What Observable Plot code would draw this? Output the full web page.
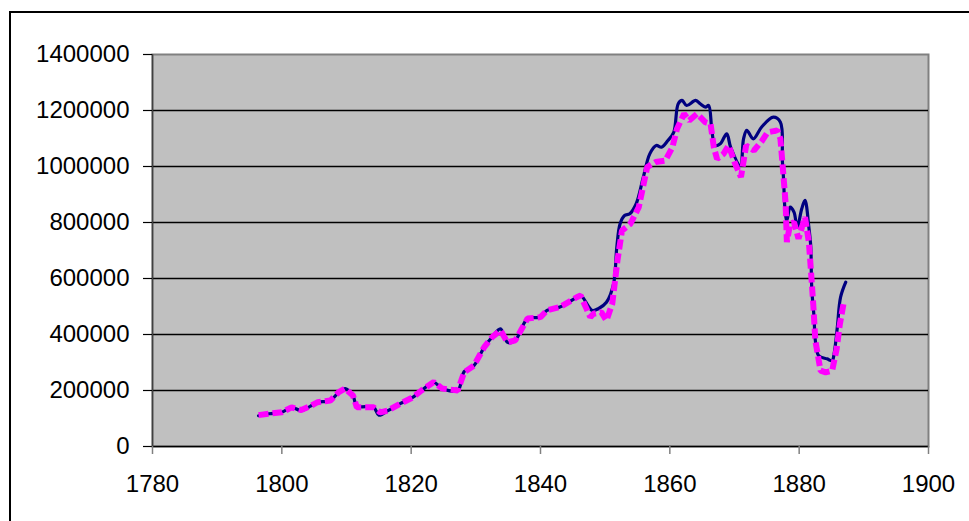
<!DOCTYPE html>
<html>
<head>
<meta charset="utf-8">
<script src="https://cdn.jsdelivr.net/npm/d3@7"></script>
<script src="https://cdn.jsdelivr.net/npm/@observablehq/plot@0.6"></script>
<style>
  html, body { margin: 0; padding: 0; background: #fff; overflow: hidden; }
  #wrap { position: relative; width: 969px; height: 521px; }
  #border { position: absolute; left: 9px; top: 11px; width: 980px; height: 530px;
            border-left: 2px solid #000; border-top: 2px solid #000; box-sizing: border-box; }
  #chart { position: absolute; left: 0; top: 0; }
</style>
</head>
<body>
<div id="wrap"><div id="border"></div><div id="chart"></div></div>
<script>
// Tick values
const xTicks = [1780, 1800, 1820, 1840, 1860, 1880, 1900];
const yTicks = [0, 200000, 400000, 600000, 800000, 1000000, 1200000, 1400000];

// Series 1 (navy, solid)
const navyYears = [1796.4, 1798, 1800, 1801.5, 1803, 1804.5, 1805.5, 1807.5, 1808.8, 1809.8, 1811, 1811.6, 1814.2, 1815, 1816.4, 1818.3, 1820.3, 1821.6, 1823.5, 1824.8, 1827.2, 1828.2, 1829.7, 1831.3, 1832.5, 1833.8, 1834.9, 1836.1, 1838, 1840, 1841, 1843, 1845.6, 1846.2, 1848, 1849, 1850.2, 1851.3, 1851.8, 1852.3, 1853, 1853.8, 1854.8, 1855.9, 1856.9, 1857.9, 1858.7, 1859.7, 1860.6, 1861.3, 1861.9, 1862.6, 1864, 1864.7, 1865.5, 1866, 1866.5, 1867, 1867.8, 1868.8, 1869.4, 1870.9, 1871.4, 1871.9, 1872.9, 1874.2, 1876, 1877.1, 1877.4, 1877.6, 1877.8, 1878.1, 1878.6, 1879.2, 1879.7, 1880.4, 1880.9, 1881.5, 1881.8, 1881.9, 1882, 1882.3, 1882.5, 1883, 1884.3, 1885.1, 1885.4, 1885.9, 1886.4, 1887.2];
const navyValues = [110000, 117000, 122000, 140000, 128000, 145000, 158000, 164000, 194000, 207000, 182000, 145000, 140000, 112000, 128000, 153000, 176000, 200000, 228000, 207000, 200000, 268000, 289000, 355000, 390000, 420000, 372000, 379000, 457000, 462000, 486000, 498000, 533000, 540000, 486000, 493000, 515000, 581000, 712000, 795000, 825000, 831000, 867000, 962000, 1045000, 1075000, 1069000, 1093000, 1122000, 1224000, 1236000, 1218000, 1236000, 1224000, 1212000, 1218000, 1129000, 1075000, 1081000, 1117000, 1069000, 1004000, 1099000, 1129000, 1099000, 1141000, 1176000, 1158000, 1021000, 950000, 849000, 807000, 855000, 837000, 783000, 849000, 879000, 783000, 712000, 593000, 545000, 462000, 379000, 325000, 313000, 307000, 331000, 426000, 533000, 587000];

// Series 2 (magenta, dashed)
const magentaYears = [1796.4, 1798, 1800, 1801.5, 1803, 1804.5, 1805.5, 1807.5, 1808.8, 1809.8, 1811, 1811.6, 1814.2, 1815.2, 1816.4, 1818.3, 1820.3, 1821.6, 1823.5, 1824.8, 1827.2, 1828.2, 1829.7, 1831.3, 1832.5, 1833.8, 1834.9, 1836.1, 1838, 1840, 1841, 1843, 1845.6, 1846.2, 1847.7, 1848.2, 1849.4, 1850.2, 1851.1, 1851.9, 1852.6, 1853.9, 1855.2, 1856.5, 1857.8, 1859.3, 1860.4, 1861.1, 1862.2, 1863, 1864.2, 1865.5, 1866.3, 1866.8, 1867.3, 1868.3, 1869.1, 1870.1, 1871, 1871.8, 1873, 1874.3, 1875.1, 1876.6, 1877.1, 1877.4, 1877.9, 1878.1, 1878.6, 1879.2, 1879.9, 1880.9, 1881.5, 1881.8, 1882.2, 1882.5, 1883.3, 1884.1, 1885.1, 1885.8, 1886.3, 1886.9];
const magentaValues = [112000, 117000, 122000, 140000, 130000, 145000, 158000, 164000, 194000, 207000, 182000, 140000, 140000, 122000, 128000, 153000, 176000, 200000, 230000, 207000, 200000, 265000, 289000, 355000, 390000, 415000, 372000, 379000, 457000, 462000, 486000, 498000, 533000, 539000, 462000, 474000, 480000, 450000, 510000, 664000, 771000, 795000, 855000, 998000, 1016000, 1021000, 1069000, 1134000, 1188000, 1164000, 1188000, 1158000, 1152000, 1069000, 1027000, 1045000, 1075000, 1010000, 962000, 1075000, 1057000, 1093000, 1122000, 1129000, 1099000, 1016000, 870000, 730000, 795000, 801000, 742000, 819000, 730000, 635000, 500000, 379000, 271000, 265000, 271000, 349000, 438000, 515000];

const navy = navyYears.map((x, i) => ({x, y: navyValues[i]}));
const magenta = magentaYears.map((x, i) => ({x, y: magentaValues[i]}));

const chart = Plot.plot({
  width: 969,
  height: 521,
  marginLeft: 152,
  marginRight: 41,
  marginTop: 54,
  marginBottom: 75,
  x: {domain: [1780, 1900]},
  y: {domain: [0, 1400000]},
  style: {
    fontFamily: "'Liberation Sans', Arial, sans-serif",
    fontSize: "24px",
    background: "transparent",
    color: "#000",
    overflow: "visible"
  },
  marks: [
    Plot.frame({fill: "#C0C0C0", stroke: "#808080", strokeWidth: 2}),
    Plot.gridY(yTicks.slice(1, -1), {stroke: "#000", strokeOpacity: 1, strokeWidth: 1.3}),
    Plot.ruleY([0], {stroke: "#000", strokeWidth: 1.5}),
    Plot.ruleX([1780], {stroke: "#404040", strokeWidth: 1.5}),
    Plot.axisY(yTicks, {tickSize: 9, tickPadding: 14, tickFormat: d => String(d), label: null, stroke: "#000", strokeWidth: 1.2, fontSize: 24}),
    Plot.axisX(xTicks, {tickSize: 8, tickPadding: 20, tickFormat: d => String(d), label: null, stroke: "#808080", strokeWidth: 1.5, fontSize: 24}),
    Plot.line(navy, {x: "x", y: "y", stroke: "#000080", strokeWidth: 3.2, curve: "catmull-rom"}),
    Plot.line(magenta, {x: "x", y: "y", stroke: "#FF00FF", strokeWidth: 6, strokeDasharray: "10,4", strokeLinecap: "butt", strokeLinejoin: "miter", curve: "linear"})
  ]
});
document.getElementById("chart").appendChild(chart);
</script>
</body>
</html>
